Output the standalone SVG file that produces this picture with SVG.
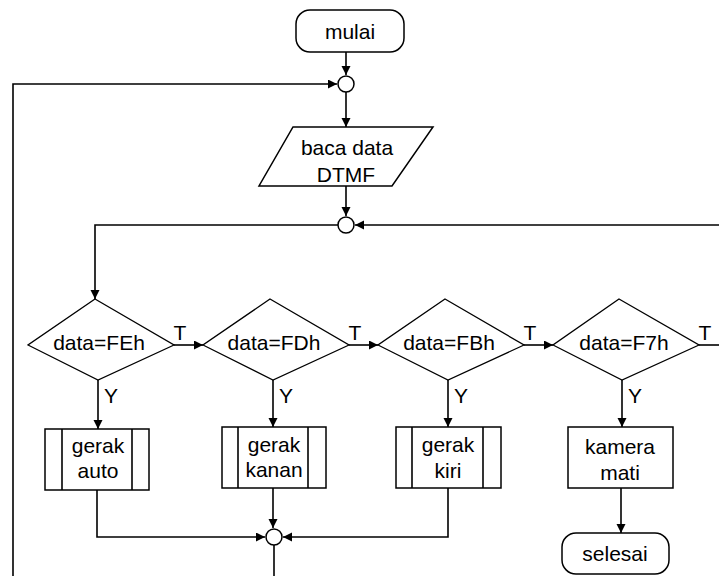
<svg xmlns="http://www.w3.org/2000/svg" width="719" height="576" viewBox="0 0 719 576">
<defs>
<marker id="ah" markerUnits="userSpaceOnUse" markerWidth="10" markerHeight="10" refX="9" refY="4.5" orient="auto">
<path d="M0,0 L9,4.5 L0,9 z" fill="#000"/>
</marker>
<style>
.shape{fill:#fff;stroke:#000;stroke-width:1.5}
.dia{fill:#fff;stroke:#000;stroke-width:1.3}
.ln{fill:none;stroke:#000;stroke-width:1.6}
.arr{fill:none;stroke:#000;stroke-width:1.6;marker-end:url(#ah)}
text{font-family:"Liberation Sans",Arial,sans-serif;font-size:21px;fill:#000}
.c{text-anchor:middle}
</style>
</defs>
<rect width="719" height="576" fill="#fff"/>
<g id="connectors">
<path class="arr" d="M346,52 V75"/>
<path class="arr" d="M13,576 V84 H337"/>
<path class="arr" d="M346,92 V127"/>
<path class="arr" d="M346,186 V216"/>
<path class="arr" d="M719,225 H355"/>
<path class="arr" d="M338,225 H95 V299"/>
<path class="arr" d="M174,345 H203"/>
<path class="arr" d="M349,345 H378"/>
<path class="arr" d="M524,345 H553"/>
<path class="ln" d="M699,345 H719"/>
<path class="arr" d="M98,380 V429"/>
<path class="arr" d="M273,380 V427"/>
<path class="arr" d="M448,380 V427"/>
<path class="arr" d="M622,380 V427"/>
<path class="arr" d="M97,490 V537 H265"/>
<path class="arr" d="M273,488 V528"/>
<path class="arr" d="M448,488 V537 H283"/>
<path class="ln" d="M274,545 V576"/>
<path class="arr" d="M621,488 V533"/>
<text x="180" y="340" class="c">T</text>
<text x="355" y="340" class="c">T</text>
<text x="530" y="340" class="c">T</text>
<text x="705" y="340" class="c">T</text>
<text x="104" y="403">Y</text>
<text x="279" y="403">Y</text>
<text x="454" y="403">Y</text>
<text x="628" y="403">Y</text>
</g>
<g id="mulai">
<rect class="shape" x="296" y="10" width="108" height="42" rx="14"/>
<text x="350" y="39" class="c">mulai</text>
</g>
<g id="junction1"><circle class="shape" cx="346" cy="84" r="8"/></g>
<g id="baca">
<polygon class="shape" points="293,127 433,127 392,186 259,186"/>
<text x="347" y="155" class="c">baca data</text>
<text x="346" y="182" class="c">DTMF</text>
</g>
<g id="junction2"><circle class="shape" cx="346" cy="225" r="8"/></g>
<g id="dec1">
<polygon class="dia" points="95,299 174,345 98,380 28,345"/>
<text x="99" y="350" class="c">data=FEh</text>
</g>
<g id="dec2">
<polygon class="dia" points="270,299 349,345 273,380 203,345"/>
<text x="274" y="350" class="c">data=FDh</text>
</g>
<g id="dec3">
<polygon class="dia" points="445,299 524,345 448,380 378,345"/>
<text x="449" y="350" class="c">data=FBh</text>
</g>
<g id="dec4">
<polygon class="dia" points="619,299 699,345 622,380 553,345"/>
<text x="624" y="350" class="c">data=F7h</text>
</g>
<g id="proc1">
<rect class="shape" x="45" y="429" width="104" height="61"/>
<line class="ln" x1="62" y1="429" x2="62" y2="490"/>
<line class="ln" x1="132" y1="429" x2="132" y2="490"/>
<text x="98" y="453" class="c">gerak</text>
<text x="98" y="478" class="c">auto</text>
</g>
<g id="proc2">
<rect class="shape" x="222" y="427" width="104" height="61"/>
<line class="ln" x1="238" y1="427" x2="238" y2="488"/>
<line class="ln" x1="308" y1="427" x2="308" y2="488"/>
<text x="274" y="452" class="c">gerak</text>
<text x="274" y="477" class="c">kanan</text>
</g>
<g id="proc3">
<rect class="shape" x="396" y="427" width="105" height="61"/>
<line class="ln" x1="412" y1="427" x2="412" y2="488"/>
<line class="ln" x1="483" y1="427" x2="483" y2="488"/>
<text x="448" y="452" class="c">gerak</text>
<text x="448" y="478" class="c">kiri</text>
</g>
<g id="proc4">
<rect class="shape" x="568" y="427" width="105" height="61"/>
<text x="620" y="454" class="c">kamera</text>
<text x="620" y="480" class="c">mati</text>
</g>
<g id="junction3"><circle class="shape" cx="274" cy="537" r="8"/></g>
<g id="selesai">
<rect class="shape" x="562" y="533" width="107" height="41" rx="14"/>
<text x="615" y="561" class="c">selesai</text>
</g>
</svg>
